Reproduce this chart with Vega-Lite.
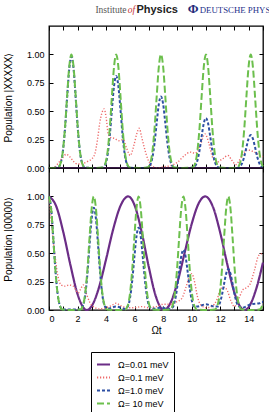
{
  "$schema": "https://vega.github.io/schema/vega-lite/v6.json",
  "padding": {"left": 2, "top": 0, "right": 0, "bottom": 0},
  "datasets": {
    "gbTop": [
      {"t": 0, "g": 0, "b": 0},
      {"t": 0.62, "g": 0.004, "b": 0.004}, {"t": 0.82, "g": 0.044, "b": 0.043}, {"t": 0.97, "g": 0.147, "b": 0.144},
      {"t": 1.12, "g": 0.35, "b": 0.343}, {"t": 1.27, "g": 0.633, "b": 0.62}, {"t": 1.42, "g": 0.893, "b": 0.875},
      {"t": 1.57, "g": 1.0, "b": 0.98}, {"t": 1.72, "g": 0.893, "b": 0.875}, {"t": 1.87, "g": 0.633, "b": 0.62},
      {"t": 2.02, "g": 0.35, "b": 0.343}, {"t": 2.17, "g": 0.147, "b": 0.144}, {"t": 2.32, "g": 0.044, "b": 0.043},
      {"t": 2.52, "g": 0.004, "b": 0.004}, {"t": 3.14, "g": 0, "b": 0},
      {"t": 3.76, "g": 0.004, "b": 0.003}, {"t": 3.96, "g": 0.044, "b": 0.036}, {"t": 4.11, "g": 0.147, "b": 0.119},
      {"t": 4.26, "g": 0.35, "b": 0.284}, {"t": 4.41, "g": 0.633, "b": 0.513}, {"t": 4.56, "g": 0.893, "b": 0.723},
      {"t": 4.71, "g": 1.0, "b": 0.81}, {"t": 4.86, "g": 0.893, "b": 0.723}, {"t": 5.01, "g": 0.633, "b": 0.513},
      {"t": 5.16, "g": 0.35, "b": 0.284}, {"t": 5.31, "g": 0.147, "b": 0.119}, {"t": 5.46, "g": 0.044, "b": 0.036},
      {"t": 5.66, "g": 0.004, "b": 0.003}, {"t": 6.28, "g": 0, "b": 0},
      {"t": 6.9, "g": 0.004, "b": 0.003}, {"t": 7.1, "g": 0.044, "b": 0.028}, {"t": 7.25, "g": 0.147, "b": 0.093},
      {"t": 7.4, "g": 0.35, "b": 0.221}, {"t": 7.55, "g": 0.633, "b": 0.399}, {"t": 7.7, "g": 0.893, "b": 0.563},
      {"t": 7.85, "g": 1.0, "b": 0.63}, {"t": 8.0, "g": 0.893, "b": 0.563}, {"t": 8.15, "g": 0.633, "b": 0.399},
      {"t": 8.3, "g": 0.35, "b": 0.221}, {"t": 8.45, "g": 0.147, "b": 0.093}, {"t": 8.6, "g": 0.044, "b": 0.028},
      {"t": 8.8, "g": 0.004, "b": 0.003}, {"t": 9.42, "g": 0, "b": 0},
      {"t": 10.05, "g": 0.004, "b": 0.002}, {"t": 10.25, "g": 0.044, "b": 0.019}, {"t": 10.4, "g": 0.147, "b": 0.065},
      {"t": 10.55, "g": 0.35, "b": 0.154}, {"t": 10.7, "g": 0.633, "b": 0.279}, {"t": 10.85, "g": 0.893, "b": 0.393},
      {"t": 11.0, "g": 1.0, "b": 0.44}, {"t": 11.15, "g": 0.893, "b": 0.393}, {"t": 11.3, "g": 0.633, "b": 0.279},
      {"t": 11.45, "g": 0.35, "b": 0.154}, {"t": 11.6, "g": 0.147, "b": 0.065}, {"t": 11.75, "g": 0.044, "b": 0.019},
      {"t": 11.95, "g": 0.004, "b": 0.002}, {"t": 12.57, "g": 0, "b": 0},
      {"t": 13.19, "g": 0.004, "b": 0.001}, {"t": 13.39, "g": 0.044, "b": 0.013}, {"t": 13.54, "g": 0.147, "b": 0.043},
      {"t": 13.69, "g": 0.35, "b": 0.102}, {"t": 13.84, "g": 0.633, "b": 0.184}, {"t": 13.99, "g": 0.893, "b": 0.259},
      {"t": 14.14, "g": 1.0, "b": 0.29}, {"t": 14.29, "g": 0.893, "b": 0.259}, {"t": 14.44, "g": 0.633, "b": 0.184},
      {"t": 14.59, "g": 0.35, "b": 0.102}, {"t": 14.74, "g": 0.147, "b": 0.043}, {"t": 14.89, "g": 0.044, "b": 0.013},
      {"t": 15.0, "g": 0.013, "b": 0.01}
    ],
    "gbBot": [
      {"t": 0, "g": 1.0, "b": 1.0}, {"t": 0.15, "g": 0.893, "b": 0.893}, {"t": 0.3, "g": 0.633, "b": 0.633},
      {"t": 0.45, "g": 0.35, "b": 0.35}, {"t": 0.6, "g": 0.147, "b": 0.147}, {"t": 0.75, "g": 0.044, "b": 0.044},
      {"t": 0.95, "g": 0.004, "b": 0.004}, {"t": 1.57, "g": 0, "b": 0.005},
      {"t": 2.19, "g": 0.004, "b": 0.004}, {"t": 2.39, "g": 0.044, "b": 0.04}, {"t": 2.54, "g": 0.147, "b": 0.132},
      {"t": 2.69, "g": 0.35, "b": 0.315}, {"t": 2.84, "g": 0.633, "b": 0.57}, {"t": 2.99, "g": 0.893, "b": 0.804},
      {"t": 3.14, "g": 1.0, "b": 0.9}, {"t": 3.29, "g": 0.893, "b": 0.804}, {"t": 3.44, "g": 0.633, "b": 0.57},
      {"t": 3.59, "g": 0.35, "b": 0.315}, {"t": 3.74, "g": 0.147, "b": 0.132}, {"t": 3.89, "g": 0.044, "b": 0.04},
      {"t": 4.09, "g": 0.004, "b": 0.01}, {"t": 4.71, "g": 0, "b": 0.03},
      {"t": 5.33, "g": 0.004, "b": 0.01}, {"t": 5.53, "g": 0.044, "b": 0.032}, {"t": 5.68, "g": 0.147, "b": 0.107},
      {"t": 5.83, "g": 0.35, "b": 0.254}, {"t": 5.98, "g": 0.633, "b": 0.459}, {"t": 6.13, "g": 0.893, "b": 0.647},
      {"t": 6.28, "g": 1.0, "b": 0.725}, {"t": 6.43, "g": 0.893, "b": 0.647}, {"t": 6.58, "g": 0.633, "b": 0.459},
      {"t": 6.73, "g": 0.35, "b": 0.254}, {"t": 6.88, "g": 0.147, "b": 0.107}, {"t": 7.03, "g": 0.044, "b": 0.032},
      {"t": 7.23, "g": 0.004, "b": 0.01}, {"t": 7.85, "g": 0, "b": 0.02},
      {"t": 8.47, "g": 0.004, "b": 0.01}, {"t": 8.67, "g": 0.044, "b": 0.023}, {"t": 8.82, "g": 0.147, "b": 0.078},
      {"t": 8.97, "g": 0.35, "b": 0.186}, {"t": 9.12, "g": 0.633, "b": 0.335}, {"t": 9.27, "g": 0.893, "b": 0.473},
      {"t": 9.42, "g": 1.0, "b": 0.53}, {"t": 9.57, "g": 0.893, "b": 0.473}, {"t": 9.72, "g": 0.633, "b": 0.335},
      {"t": 9.87, "g": 0.35, "b": 0.186}, {"t": 10.02, "g": 0.147, "b": 0.078}, {"t": 10.17, "g": 0.044, "b": 0.03},
      {"t": 10.37, "g": 0.004, "b": 0.03}, {"t": 11.0, "g": 0, "b": 0.05},
      {"t": 11.62, "g": 0.004, "b": 0.03}, {"t": 11.82, "g": 0.044, "b": 0.03}, {"t": 11.97, "g": 0.147, "b": 0.06},
      {"t": 12.12, "g": 0.35, "b": 0.13}, {"t": 12.27, "g": 0.633, "b": 0.23}, {"t": 12.42, "g": 0.893, "b": 0.32},
      {"t": 12.57, "g": 1.0, "b": 0.36}, {"t": 12.72, "g": 0.893, "b": 0.32}, {"t": 12.87, "g": 0.633, "b": 0.23},
      {"t": 13.02, "g": 0.35, "b": 0.13}, {"t": 13.17, "g": 0.147, "b": 0.06}, {"t": 13.32, "g": 0.044, "b": 0.03},
      {"t": 13.52, "g": 0.004, "b": 0.02}, {"t": 14.14, "g": 0, "b": 0.05},
      {"t": 14.76, "g": 0.004, "b": 0.06}, {"t": 14.9, "g": 0.024, "b": 0.07}, {"t": 15.0, "g": 0.064, "b": 0.07}
    ],
    "rTop": [
      {"t": 0, "v": 0}, {"t": 0.4, "v": 0.01}, {"t": 0.7, "v": 0.05}, {"t": 0.95, "v": 0.09}, {"t": 1.2, "v": 0.12},
      {"t": 1.45, "v": 0.1}, {"t": 1.7, "v": 0.06}, {"t": 2.0, "v": 0.035}, {"t": 2.35, "v": 0.04}, {"t": 2.75, "v": 0.06},
      {"t": 3.0, "v": 0.08}, {"t": 3.2, "v": 0.12}, {"t": 3.4, "v": 0.25}, {"t": 3.56, "v": 0.4}, {"t": 3.7, "v": 0.48},
      {"t": 3.86, "v": 0.52}, {"t": 4.0, "v": 0.45}, {"t": 4.15, "v": 0.3}, {"t": 4.3, "v": 0.27}, {"t": 4.6, "v": 0.26},
      {"t": 4.9, "v": 0.24}, {"t": 5.2, "v": 0.25}, {"t": 5.45, "v": 0.17}, {"t": 5.7, "v": 0.11}, {"t": 5.95, "v": 0.2},
      {"t": 6.15, "v": 0.3}, {"t": 6.32, "v": 0.35}, {"t": 6.5, "v": 0.27}, {"t": 6.7, "v": 0.17}, {"t": 6.95, "v": 0.07},
      {"t": 7.2, "v": 0.02}, {"t": 7.6, "v": 0.0}, {"t": 8.0, "v": 0.01}, {"t": 8.5, "v": 0.02}, {"t": 9.0, "v": 0.05},
      {"t": 9.5, "v": 0.11}, {"t": 9.9, "v": 0.14}, {"t": 10.25, "v": 0.13}, {"t": 10.6, "v": 0.2}, {"t": 10.93, "v": 0.3},
      {"t": 11.2, "v": 0.22}, {"t": 11.45, "v": 0.1}, {"t": 11.75, "v": 0.05}, {"t": 12.15, "v": 0.08}, {"t": 12.55, "v": 0.11},
      {"t": 12.8, "v": 0.07}, {"t": 13.1, "v": 0.03}, {"t": 13.4, "v": 0.08}, {"t": 13.7, "v": 0.14}, {"t": 13.9, "v": 0.16},
      {"t": 14.2, "v": 0.15}, {"t": 14.55, "v": 0.13}, {"t": 14.8, "v": 0.11}, {"t": 15.0, "v": 0.1}
    ],
    "rBot": [
      {"t": 0, "v": 1.0}, {"t": 0.15, "v": 0.8}, {"t": 0.3, "v": 0.6}, {"t": 0.45, "v": 0.45}, {"t": 0.55, "v": 0.35},
      {"t": 0.7, "v": 0.26}, {"t": 0.85, "v": 0.22}, {"t": 1.1, "v": 0.21}, {"t": 1.4, "v": 0.22}, {"t": 1.7, "v": 0.21},
      {"t": 1.9, "v": 0.17}, {"t": 2.05, "v": 0.15}, {"t": 2.2, "v": 0.18}, {"t": 2.4, "v": 0.22}, {"t": 2.6, "v": 0.15},
      {"t": 2.85, "v": 0.07}, {"t": 3.1, "v": 0.03}, {"t": 3.5, "v": 0.01}, {"t": 4.0, "v": 0.02}, {"t": 4.4, "v": 0.04},
      {"t": 4.7, "v": 0.06}, {"t": 5.0, "v": 0.04}, {"t": 5.5, "v": 0.02}, {"t": 6.0, "v": 0.02}, {"t": 6.5, "v": 0.03},
      {"t": 7.0, "v": 0.02}, {"t": 7.5, "v": 0.03}, {"t": 8.0, "v": 0.05}, {"t": 8.5, "v": 0.05}, {"t": 8.9, "v": 0.07},
      {"t": 9.3, "v": 0.1}, {"t": 9.6, "v": 0.2}, {"t": 9.8, "v": 0.28}, {"t": 10.0, "v": 0.32}, {"t": 10.2, "v": 0.25},
      {"t": 10.4, "v": 0.12}, {"t": 10.6, "v": 0.05}, {"t": 11.0, "v": 0.02}, {"t": 11.4, "v": 0.03}, {"t": 11.8, "v": 0.1},
      {"t": 12.05, "v": 0.19}, {"t": 12.3, "v": 0.2}, {"t": 12.5, "v": 0.17}, {"t": 12.75, "v": 0.08}, {"t": 13.0, "v": 0.03},
      {"t": 13.3, "v": 0.1}, {"t": 13.6, "v": 0.18}, {"t": 13.9, "v": 0.2}, {"t": 14.1, "v": 0.23}, {"t": 14.4, "v": 0.35},
      {"t": 14.7, "v": 0.48}, {"t": 15.0, "v": 0.5}
    ],
    "pTop": [
      {"t": 0, "v": 0}, {"t": 5, "v": 0}, {"t": 10, "v": 0}, {"t": 15, "v": 0}
    ],
    "pBot": [
      {"t": 0, "v": 1.0}, {"t": 0.5, "v": 0.915}, {"t": 1.0, "v": 0.687}, {"t": 1.5, "v": 0.397}, {"t": 2.0, "v": 0.14},
      {"t": 2.5, "v": 0.008}, {"t": 2.65, "v": 0}, {"t": 3.0, "v": 0.036}, {"t": 3.5, "v": 0.197}, {"t": 4.0, "v": 0.446},
      {"t": 4.5, "v": 0.711}, {"t": 5.0, "v": 0.914}, {"t": 5.55, "v": 1.0}, {"t": 6.0, "v": 0.922}, {"t": 6.5, "v": 0.684},
      {"t": 7.0, "v": 0.376}, {"t": 7.5, "v": 0.115}, {"t": 8.05, "v": 0}, {"t": 8.5, "v": 0.058}, {"t": 9.0, "v": 0.242},
      {"t": 9.5, "v": 0.5}, {"t": 10.0, "v": 0.757}, {"t": 10.5, "v": 0.941}, {"t": 10.95, "v": 1.0}, {"t": 11.5, "v": 0.905},
      {"t": 12.0, "v": 0.681}, {"t": 12.5, "v": 0.401}, {"t": 13.0, "v": 0.152}, {"t": 13.5, "v": 0.013}, {"t": 13.7, "v": 0},
      {"t": 14.0, "v": 0.026}, {"t": 14.5, "v": 0.176}, {"t": 15.0, "v": 0.419}
    ]
  },
  "config": {
    "font": "Liberation Sans",
    "view": {"stroke": "black", "strokeWidth": 1.3},
    "line": {"interpolate": "monotone"},
    "axis": {
      "domain": false, "grid": false, "tickColor": "black", "tickSize": -4, "tickWidth": 1,
      "labelFont": "Liberation Sans", "labelFontSize": 9, "labelColor": "black", "labelPadding": 9,
      "titleFont": "Liberation Sans", "titleFontSize": 10, "titleFontWeight": "normal", "titleColor": "black"
    },
    "axisX": {"labelPadding": 8, "titlePadding": 2},
    "axisY": {"titlePadding": 13},
    "legend": {
      "orient": "none", "legendX": 42, "legendY": 352,
      "strokeColor": "black", "fillColor": "white", "padding": 5,
      "labelFont": "Liberation Sans", "labelFontSize": 9, "labelColor": "black", "labelOffset": 7,
      "symbolType": "stroke", "symbolSize": 169, "symbolStrokeWidth": 1.8, "rowPadding": -1
    }
  },
  "spacing": 4,
  "vconcat": [
    {
      "width": 214,
      "height": 20,
      "view": {"stroke": null},
      "data": {"values": [{}]},
      "layer": [
        {
          "mark": {"type": "text", "text": "Institute", "align": "left", "baseline": "alphabetic", "font": "Liberation Serif", "fontSize": 9.5, "color": "#555555"},
          "encoding": {
            "x": {"datum": 46.4, "type": "quantitative", "scale": {"domain": [0, 214]}, "axis": null},
            "y": {"datum": 0.35, "type": "quantitative", "scale": {"domain": [0, 1]}, "axis": null}
          }
        },
        {
          "mark": {"type": "text", "text": "of", "align": "left", "baseline": "alphabetic", "font": "Liberation Serif", "fontStyle": "italic", "fontSize": 9.5, "color": "#c8333a"},
          "encoding": {
            "x": {"datum": 78.7, "type": "quantitative", "scale": {"domain": [0, 214]}, "axis": null},
            "y": {"datum": 0.35, "type": "quantitative", "scale": {"domain": [0, 1]}, "axis": null}
          }
        },
        {
          "mark": {"type": "text", "text": "Physics", "align": "left", "baseline": "alphabetic", "font": "Liberation Sans", "fontWeight": "bold", "fontSize": 11, "color": "#222222"},
          "encoding": {
            "x": {"datum": 87.4, "type": "quantitative", "scale": {"domain": [0, 214]}, "axis": null},
            "y": {"datum": 0.35, "type": "quantitative", "scale": {"domain": [0, 1]}, "axis": null}
          }
        },
        {
          "mark": {"type": "text", "text": "Φ", "align": "left", "baseline": "alphabetic", "font": "Liberation Serif", "fontWeight": "bold", "fontSize": 13, "color": "#1f2c7a"},
          "encoding": {
            "x": {"datum": 138.7, "type": "quantitative", "scale": {"domain": [0, 214]}, "axis": null},
            "y": {"datum": 0.35, "type": "quantitative", "scale": {"domain": [0, 1]}, "axis": null}
          }
        },
        {
          "mark": {"type": "text", "text": "DEUTSCHE PHYS", "align": "left", "baseline": "alphabetic", "font": "Liberation Serif", "fontSize": 8.8, "color": "#24318a"},
          "encoding": {
            "x": {"datum": 150.7, "type": "quantitative", "scale": {"domain": [0, 214]}, "axis": null},
            "y": {"datum": 0.35, "type": "quantitative", "scale": {"domain": [0, 1]}, "axis": null}
          }
        }
      ]
    },
    {
      "spacing": 0,
      "bounds": "flush",
      "vconcat": [
        {
          "width": 214,
          "height": 142,
          "layer": [
            {
              "data": {"name": "pTop"},
              "mark": {"type": "line", "strokeWidth": 2.2},
              "encoding": {
                "x": {"field": "t", "type": "quantitative", "scale": {"domain": [0, 15], "nice": false},
                      "axis": {"orient": "bottom", "values": [0, 1, 2, 3, 4, 5, 6, 7, 8, 9, 10, 11, 12, 13, 14, 15], "labels": false, "title": null}},
                "y": {"field": "v", "type": "quantitative", "scale": {"domain": [0, 1.25], "nice": false},
                      "axis": {"orient": "left", "values": [0, 0.25, 0.5, 0.75, 1], "format": ".2f", "title": "Population |XXXXX⟩"}},
                "color": {"datum": "Ω=0.01 meV", "type": "nominal", "scale": {"domain": ["Ω=0.01 meV", "Ω=0.1 meV", "Ω=1.0 meV", "Ω= 10 meV"], "range": ["#6b2d86", "#ee6a6a", "#2d4fa3", "#6cbf4d"]}, "legend": {"title": null}},
                "strokeDash": {"datum": "Ω=0.01 meV", "type": "nominal", "scale": {"domain": ["Ω=0.01 meV", "Ω=0.1 meV", "Ω=1.0 meV", "Ω= 10 meV"], "range": [[1, 0], [1.2, 1.8], [3, 2], [7, 3]]}, "legend": {"title": null}}
              }
            },
            {
              "data": {"name": "rTop"},
              "mark": {"type": "line", "strokeWidth": 1.4},
              "encoding": {
                "x": {"field": "t", "type": "quantitative", "axis": null},
                "y": {"field": "v", "type": "quantitative", "axis": null},
                "color": {"datum": "Ω=0.1 meV", "type": "nominal"},
                "strokeDash": {"datum": "Ω=0.1 meV", "type": "nominal"}
              }
            },
            {
              "data": {"name": "gbTop"},
              "mark": {"type": "line", "strokeWidth": 2},
              "encoding": {
                "x": {"field": "t", "type": "quantitative", "axis": null},
                "y": {"field": "b", "type": "quantitative", "axis": null},
                "color": {"datum": "Ω=1.0 meV", "type": "nominal"},
                "strokeDash": {"datum": "Ω=1.0 meV", "type": "nominal"}
              }
            },
            {
              "data": {"name": "gbTop"},
              "mark": {"type": "line", "strokeWidth": 2},
              "encoding": {
                "x": {"field": "t", "type": "quantitative",
                      "axis": {"orient": "top", "values": [0, 1, 2, 3, 4, 5, 6, 7, 8, 9, 10, 11, 12, 13, 14, 15], "labels": false, "title": null}},
                "y": {"field": "g", "type": "quantitative",
                      "axis": {"orient": "right", "values": [0, 0.25, 0.5, 0.75, 1], "labels": false, "title": null}},
                "color": {"datum": "Ω= 10 meV", "type": "nominal"},
                "strokeDash": {"datum": "Ω= 10 meV", "type": "nominal"}
              }
            }
          ]
        },
        {
          "width": 214,
          "height": 142,
          "layer": [
            {
              "data": {"name": "pBot"},
              "mark": {"type": "line", "strokeWidth": 2.2},
              "encoding": {
                "x": {"field": "t", "type": "quantitative", "scale": {"domain": [0, 15], "nice": false},
                      "axis": {"orient": "bottom", "values": [0, 1, 2, 3, 4, 5, 6, 7, 8, 9, 10, 11, 12, 13, 14, 15], "labelOverlap": false, "labelExpr": "datum.value % 2 === 0 && datum.value < 15 ? datum.label : ''", "title": "Ωt"}},
                "y": {"field": "v", "type": "quantitative", "scale": {"domain": [0, 1.25], "nice": false},
                      "axis": {"orient": "left", "values": [0, 0.25, 0.5, 0.75, 1], "format": ".2f", "title": "Population |00000⟩"}},
                "color": {"datum": "Ω=0.01 meV", "type": "nominal"},
                "strokeDash": {"datum": "Ω=0.01 meV", "type": "nominal"}
              }
            },
            {
              "data": {"name": "rBot"},
              "mark": {"type": "line", "strokeWidth": 1.4},
              "encoding": {
                "x": {"field": "t", "type": "quantitative", "axis": null},
                "y": {"field": "v", "type": "quantitative", "axis": null},
                "color": {"datum": "Ω=0.1 meV", "type": "nominal"},
                "strokeDash": {"datum": "Ω=0.1 meV", "type": "nominal"}
              }
            },
            {
              "data": {"name": "gbBot"},
              "mark": {"type": "line", "strokeWidth": 2},
              "encoding": {
                "x": {"field": "t", "type": "quantitative", "axis": null},
                "y": {"field": "b", "type": "quantitative", "axis": null},
                "color": {"datum": "Ω=1.0 meV", "type": "nominal"},
                "strokeDash": {"datum": "Ω=1.0 meV", "type": "nominal"}
              }
            },
            {
              "data": {"name": "gbBot"},
              "mark": {"type": "line", "strokeWidth": 2},
              "encoding": {
                "x": {"field": "t", "type": "quantitative",
                      "axis": {"orient": "top", "values": [0, 1, 2, 3, 4, 5, 6, 7, 8, 9, 10, 11, 12, 13, 14, 15], "labels": false, "title": null}},
                "y": {"field": "g", "type": "quantitative",
                      "axis": {"orient": "right", "values": [0, 0.25, 0.5, 0.75, 1], "labels": false, "title": null}},
                "color": {"datum": "Ω= 10 meV", "type": "nominal"},
                "strokeDash": {"datum": "Ω= 10 meV", "type": "nominal"}
              }
            }
          ]
        }
      ]
    }
  ]
}
